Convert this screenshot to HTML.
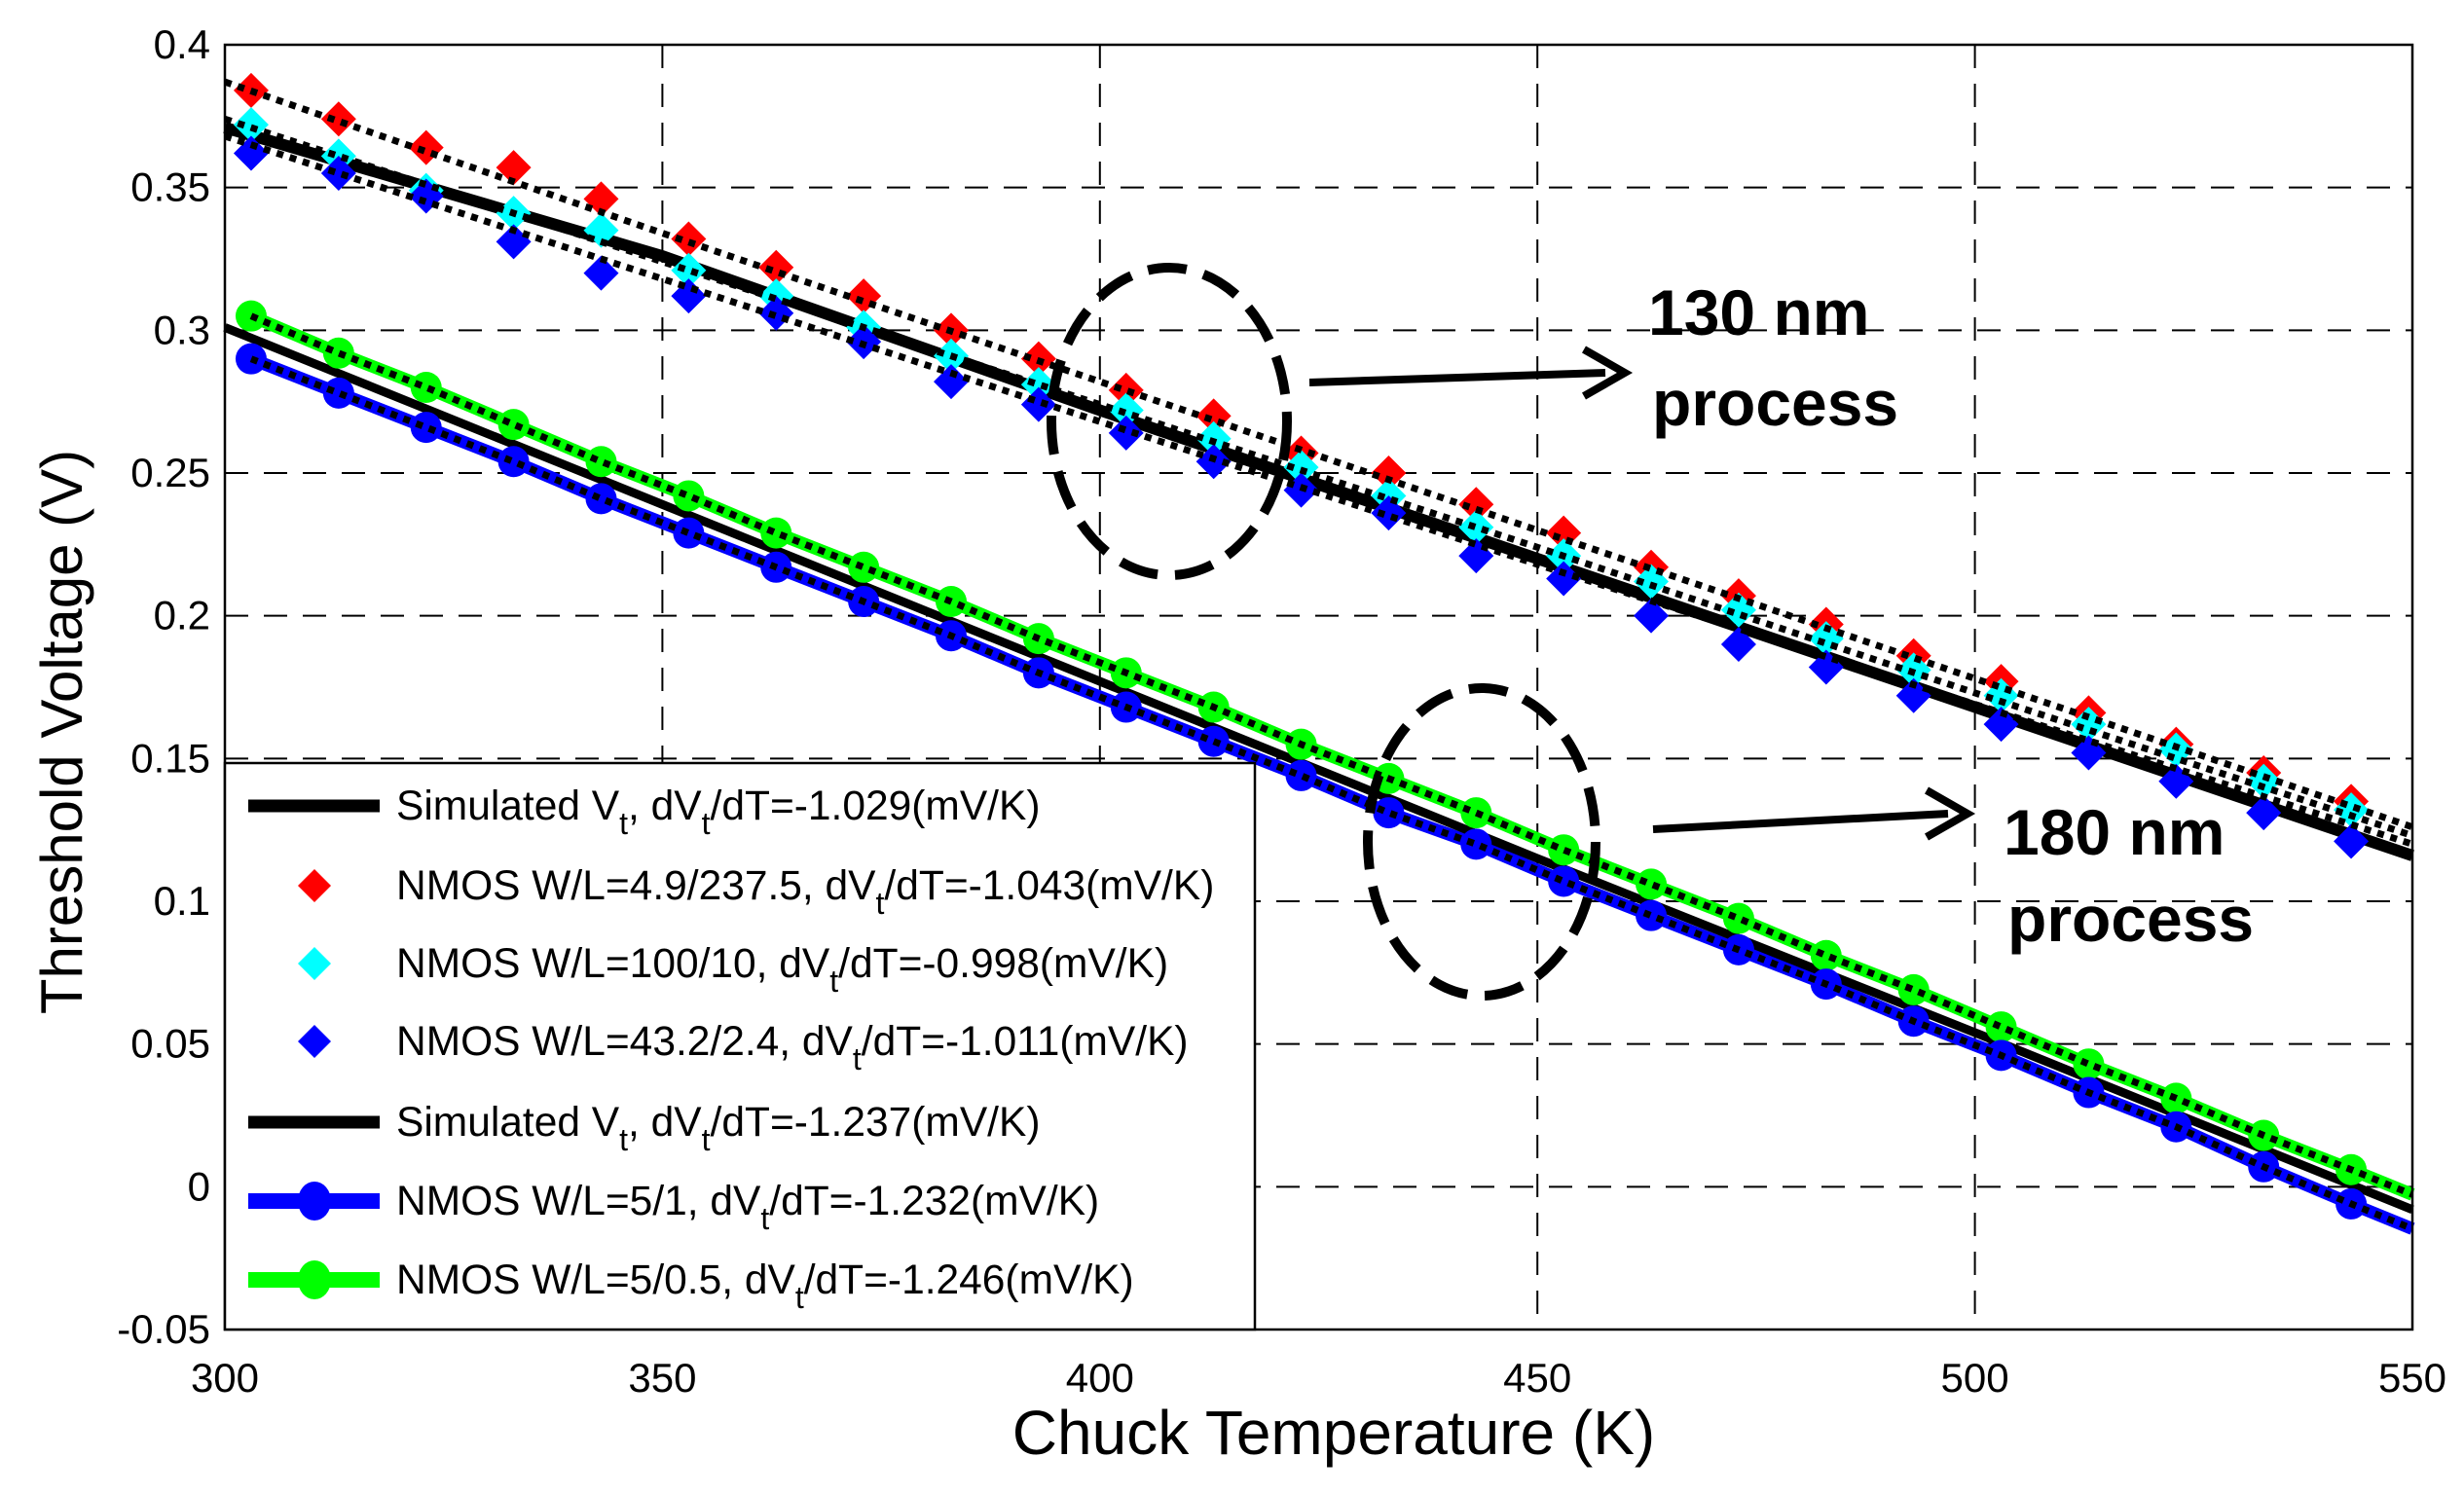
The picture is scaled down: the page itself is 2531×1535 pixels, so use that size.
<!DOCTYPE html>
<html><head><meta charset="utf-8"><style>
html,body{margin:0;padding:0;background:#fff;}
svg{display:block;font-family:"Liberation Sans",sans-serif;}
</style></head><body>
<svg id="chart" width="2531" height="1535" viewBox="0 0 2531 1535" xmlns="http://www.w3.org/2000/svg">
<rect width="2531" height="1535" fill="#fff"/>
<g id="grid"></g>
<g id="series"></g>
<g id="axes"></g>
<g id="legend"></g>
<g id="annot"></g>
</svg>
<script>
const temps = [303,313,323,333,343,353,363,373,383,393,403,413,423,433,443,453,463,473,483,493,503,513,523,533,543];
const red130 = [0.384,0.374,0.364,0.357,0.346,0.332,0.322,0.312,0.300,0.290,0.279,0.270,0.257,0.250,0.239,0.229,0.217,0.207,0.197,0.186,0.177,0.166,0.155,0.145,0.135];
const cyan130 = [0.372,0.361,0.349,0.341,0.335,0.321,0.312,0.301,0.291,0.281,0.272,0.262,0.252,0.242,0.231,0.221,0.212,0.202,0.192,0.181,0.172,0.162,0.153,0.142,0.132];
const blue130 = [0.362,0.355,0.347,0.331,0.320,0.312,0.306,0.296,0.282,0.274,0.264,0.254,0.244,0.236,0.221,0.213,0.200,0.190,0.182,0.172,0.162,0.152,0.142,0.131,0.121];
const simTemps = [300,350,400,450,500,550];
const sim130 = [0.371,0.326,0.272,0.220,0.168,0.116];
const fitRed130 = [0.387,0.334,0.282,0.230,0.178,0.126];
const fitCyan130 = [0.374,0.324,0.274,0.224,0.173,0.123];
const fitBlue130 = [0.368,0.318,0.268,0.218,0.169,0.120];
const green180 = [0.305,0.292,0.280,0.267,0.254,0.242,0.229,0.217,0.205,0.192,0.180,0.168,0.155,0.143,0.131,0.118,0.106,0.094,0.081,0.069,0.056,0.043,0.031,0.018,0.006];
const blue180 = [0.290,0.278,0.266,0.254,0.241,0.229,0.217,0.205,0.193,0.180,0.168,0.156,0.144,0.131,0.120,0.107,0.095,0.083,0.071,0.058,0.046,0.033,0.021,0.007,-0.006];
const sim180 = [0.301,0.239,0.177,0.115,0.054,-0.008];
const xTicks = [300,350,400,450,500,550];
const yTicks = [-0.05,0,0.05,0.1,0.15,0.2,0.25,0.3,0.35,0.4];
const yTickLabels = ["-0.05","0","0.05","0.1","0.15","0.2","0.25","0.3","0.35","0.4"];

const NS="http://www.w3.org/2000/svg";
const L=231,R=2478,T=46,B=1366;
function xs(t){return L+(t-300)/250*(R-L);}
function ys(v){return T+(0.4-v)/0.45*(B-T);}
function el(tag,attrs,parent){const e=document.createElementNS(NS,tag);for(const k in attrs)e.setAttribute(k,attrs[k]);parent.appendChild(e);return e;}
const grid=document.getElementById('grid'),ser=document.getElementById('series'),axes=document.getElementById('axes'),leg=document.getElementById('legend'),ann=document.getElementById('annot');

xTicks.forEach((t,i)=>{
  if(i>0&&i<xTicks.length-1){const g=el('line',{x1:xs(t),x2:xs(t),y1:T,y2:B,stroke:'#000','stroke-width':2,'stroke-dasharray':'24 16'},grid);
  
  }
  const tx=el('text',{x:xs(t),y:1430,'font-size':42,'text-anchor':'middle'},axes);tx.textContent=t;
  
  
});
yTicks.forEach((v,i)=>{
  if(i>0&&i<yTicks.length-1){const g=el('line',{x1:L,x2:R,y1:ys(v),y2:ys(v),stroke:'#000','stroke-width':2,'stroke-dasharray':'24 16'},grid);
  
  }
  const tx=el('text',{x:216,y:ys(v)+14,'font-size':42,'text-anchor':'end'},axes);tx.textContent=yTickLabels[i];
  
  
});
const frame=el('rect',{x:L,y:T,width:R-L,height:B-T,fill:'none',stroke:'#000','stroke-width':2.5},axes);



function path(xv,yv,attrs,name){
  const d=xv.map((t,i)=>(i?'L':'M')+xs(t).toFixed(1)+' '+ys(yv[i]).toFixed(1)).join(' ');
  const p=el('path',Object.assign({d:d,fill:'none'},attrs),ser);
  
  
}
function diamonds(yv,color,name){
  temps.forEach((t,i)=>{const x=xs(t),y=ys(yv[i]),s=18;
    const p=el('path',{d:`M${x} ${y-s} L${x+s} ${y} L${x} ${y+s} L${x-s} ${y} Z`,fill:color},ser);
    
    });
}
function circles(yv,color,name){
  temps.forEach((t,i)=>{const c=el('circle',{cx:xs(t),cy:ys(yv[i]),r:16,fill:color},ser);
    
    });
}
const dot={stroke:'#000','stroke-width':7,'stroke-dasharray':'7 7'};
// 130 nm
path(simTemps,sim130,{stroke:'#000','stroke-width':12},'simulated-130nm-line');
diamonds(red130,'#ff0000','red-diamond-marker');
diamonds(cyan130,'#00ffff','cyan-diamond-marker');
diamonds(blue130,'#0000ff','blue-diamond-marker');
path(simTemps,fitRed130,dot,'fit-red-130nm');
path(simTemps,fitCyan130,dot,'fit-cyan-130nm');
path(simTemps,fitBlue130,dot,'fit-blue-130nm');
// 180 nm
path(temps.concat([550]),green180.concat([green180[24]-0.0087]),{stroke:'#00ff00','stroke-width':13},'green-180nm-line');
path(temps.concat([550]),blue180.concat([blue180[24]-0.0087]),{stroke:'#0000ff','stroke-width':13},'blue-180nm-line');
path(simTemps,sim180,{stroke:'#000','stroke-width':9},'simulated-180nm-line');
circles(green180,'#00ff00','green-circle-marker');
circles(blue180,'#0000ff','blue-circle-marker');
path(temps.concat([550]),green180.concat([green180[24]-0.0087]),dot,'fit-green-180nm');
path(temps.concat([550]),blue180.concat([blue180[24]-0.0087]),dot,'fit-blue-180nm');

// legend
const lb=el('rect',{x:L,y:784,width:1058,height:B-784,fill:'#fff',stroke:'#000','stroke-width':2.5},leg);


const entries=[
 ['line','#000','Simulated V','t',', dV','t','/dT=-1.029(mV/K)'],
 ['diamond','#ff0000','NMOS W/L=4.9/237.5, dV','t','/dT=-1.043(mV/K)'],
 ['diamond','#00ffff','NMOS W/L=100/10, dV','t','/dT=-0.998(mV/K)'],
 ['diamond','#0000ff','NMOS W/L=43.2/2.4, dV','t','/dT=-1.011(mV/K)'],
 ['line','#000','Simulated V','t',', dV','t','/dT=-1.237(mV/K)'],
 ['circle','#0000ff','NMOS W/L=5/1, dV','t','/dT=-1.232(mV/K)'],
 ['circle','#00ff00','NMOS W/L=5/0.5, dV','t','/dT=-1.246(mV/K)']
];
const ly=[828,910,990,1070,1153,1234,1315];
entries.forEach((e,i)=>{
  const y=ly[i];
  const g=el('g',{},leg);
  
  
  if(e[0]==='line'){el('line',{x1:255,x2:390,y1:y,y2:y,stroke:e[1],'stroke-width':13},g);}
  else if(e[0]==='diamond'){el('path',{d:`M323 ${y-17} L340 ${y} L323 ${y+17} L306 ${y} Z`,fill:e[1]},g);}
  else {el('line',{x1:255,x2:390,y1:y,y2:y,stroke:e[1],'stroke-width':16},g);el('ellipse',{cx:323,cy:y,rx:17,ry:20,fill:e[1]},g);}
  const tx=el('text',{x:407,y:y+14,'font-size':42.5},g);
  const parts=e.slice(2);
  parts.forEach((p,j)=>{const ts=el('tspan',{},tx);
    if(p==='t'){ts.setAttribute('font-size',32);ts.setAttribute('dy',15);}
    else if(j>0&&parts[j-1]==='t'){ts.setAttribute('dy',-15);}
    ts.textContent=p;});
});

// axis titles
const xt=el('text',{x:1370,y:1494,'font-size':64,'text-anchor':'middle'},axes);xt.textContent='Chuck Temperature  (K)';


const yt=el('text',{x:0,y:0,'font-size':60,'text-anchor':'middle',transform:'translate(84,752) rotate(-90)'},axes);yt.textContent='Threshold Voltage  (V)';



// annotations
function ellipse(cx,cy,rx,ry,name){const e=el('ellipse',{cx,cy,rx,ry,fill:'none',stroke:'#000','stroke-width':10,'stroke-dasharray':'40 18'},ann);
  
  }
ellipse(1201,433,121,158,'ellipse-130nm');
ellipse(1522,865,117,158,'ellipse-180nm');
function arrow(x1,y1,x2,y2,name){const g=el('g',{},ann);
  
  
  el('line',{x1,y1,x2:x2-20,y2:y2,stroke:'#000','stroke-width':8},g);
  el('path',{d:`M${x2-42} ${y2-24} L${x2} ${y2} L${x2-42} ${y2+24}`,fill:'none',stroke:'#000','stroke-width':8},g);}
arrow(1345,393,1669,383,'arrow-130nm');
arrow(1698,852,2021,836,'arrow-180nm');
function label(x,y,s,name){const t=el('text',{x,y,'font-size':66,'font-weight':'bold'},ann);t.textContent=s;
  
  }
label(1693,344,'130 nm','label-130nm');
label(1697,437,'process','label-130nm-process');
label(2058,878,'180 nm','label-180nm');
label(2062,967,'process','label-180nm-process');
</script>
</body></html>
